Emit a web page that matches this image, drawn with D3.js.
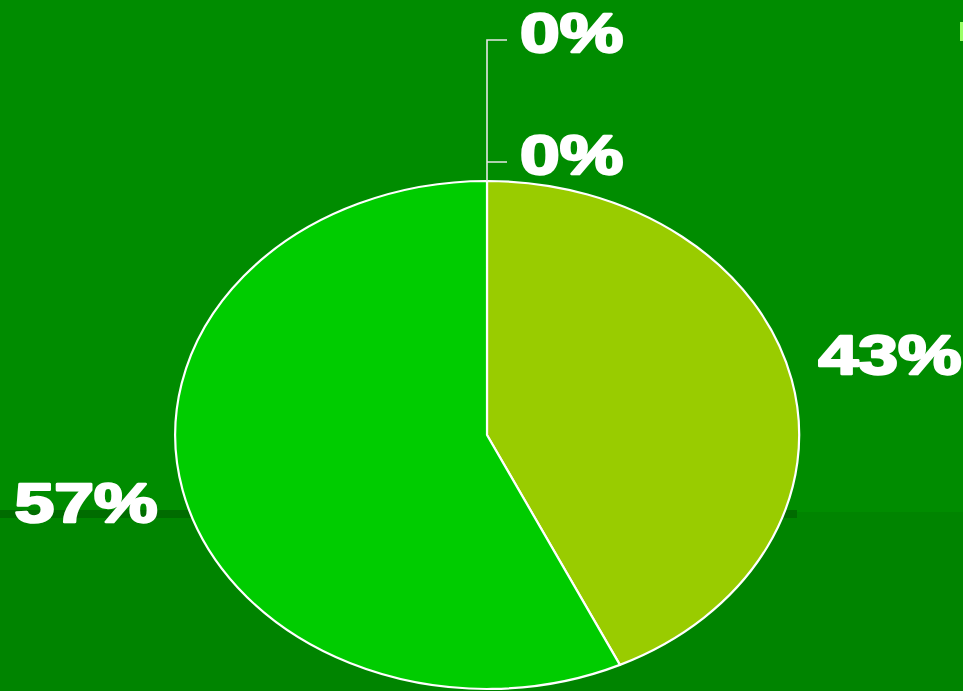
<!DOCTYPE html>
<html><head><meta charset="utf-8">
<script src="https://cdn.jsdelivr.net/npm/d3@7"></script>
<style>html,body{margin:0;padding:0;background:#008a00;overflow:hidden}</style>
</head><body>
<svg id="c" width="963" height="691"></svg>
<script>
const categories = ["Série 1", "Série 2", "Série 3", "Série 4"];
const values = [0, 0, 43, 57];
const labels = ["0%", "0%", "43%", "57%"];
const colors = ["#ffff66", "#66ff66", "#99cc00", "#00cc00"];

const W = 963, H = 691;
const svg = d3.select("#c");
// background
svg.append("rect").attr("width", W).attr("height", 512).attr("fill", "#008c00");
svg.append("rect").attr("y", 512).attr("width", W).attr("height", H - 512).attr("fill", "#008400");
svg.append("rect").attr("x", 0).attr("y", 510).attr("width", 797).attr("height", 8).attr("fill", "#006c00");
// legend key remnant
svg.append("rect").attr("x", 960).attr("y", 22).attr("width", 10).attr("height", 19).attr("fill", "#99ff66");

const cx = 487, cy = 435, rx = 312, ry = 254;
const pie = d3.pie().sort(null).value(d => d)(values);
const arc = d3.arc().innerRadius(0).outerRadius(1);

const g = svg.append("g").attr("transform", `translate(${cx},${cy}) scale(${rx},${ry})`);
g.selectAll("path").data(pie).join("path")
  .attr("d", arc)
  .attr("fill", (d, i) => colors[i])
  .attr("stroke", "#ffffff")
  .attr("stroke-width", 2.2)
  .attr("vector-effect", "non-scaling-stroke")
  .attr("stroke-linejoin", "round");

// leader lines for the zero slices
const topY = cy - ry;
const zeroLabelY = [40, 162];
svg.append("path")
  .attr("d", `M${cx},${topY} V${zeroLabelY[0]} H${cx + 20} M${cx},${zeroLabelY[1]} H${cx + 20}`)
  .attr("fill", "none").attr("stroke", "#e6e6e6").attr("stroke-width", 1.6);

const fontSize = 55, stretch = 1.3;
function addLabel(txt, x, y, anchor) {
  const t = svg.append("text")
    .attr("x", x).attr("y", y)
    .attr("font-family", "Liberation Sans, Arial, sans-serif")
    .attr("font-weight", "bold").attr("font-size", fontSize)
    .attr("fill", "#ffffff").attr("stroke", "#ffffff").attr("stroke-width", 2.4)
    .attr("stroke-linejoin", "round")
    .text(txt);
  const w = t.node().getComputedTextLength() * stretch;
  t.attr("textLength", w).attr("lengthAdjust", "spacingAndGlyphs");
  if (anchor === "end") t.attr("x", x - w);
  return t;
}

pie.forEach((d, i) => {
  if (d.value === 0) {
    addLabel(labels[i], cx + 33, zeroLabelY[i === 0 ? 0 : 1] + 12, "start");
  } else {
    const a = (d.startAngle + d.endAngle) / 2;
    const px = cx + rx * Math.sin(a), py = cy - ry * Math.cos(a);
    if (Math.sin(a) > 0) addLabel(labels[i], px + 27, py - 6, "start");
    else addLabel(labels[i], px - 25, py + 32, "end");
  }
});
</script>
</body></html>
